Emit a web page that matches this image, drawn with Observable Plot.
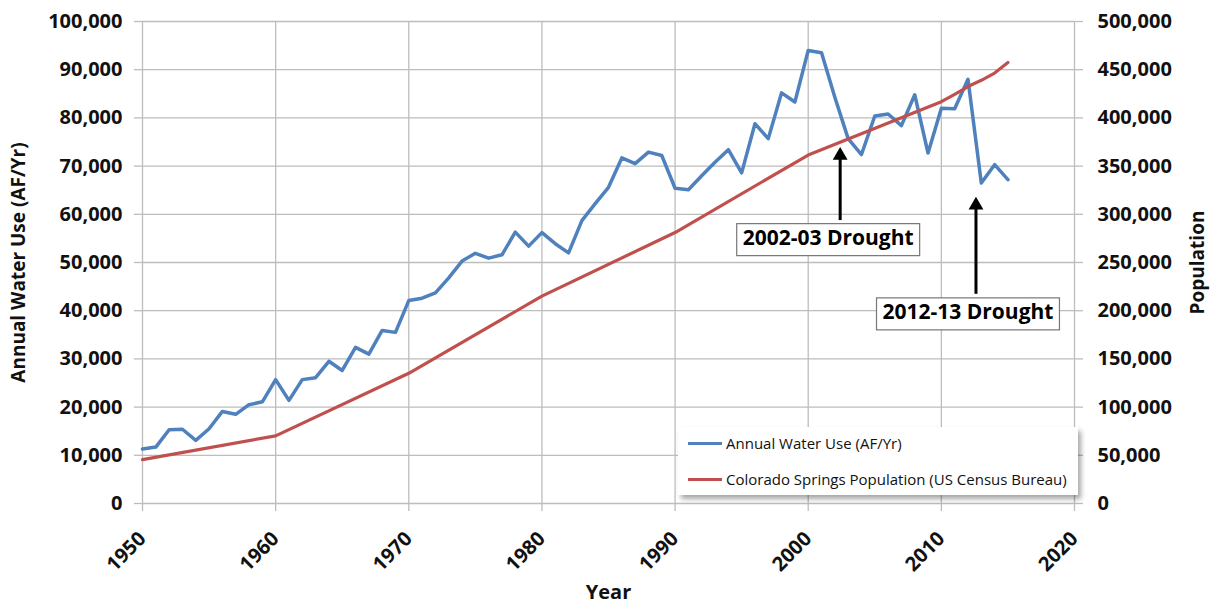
<!DOCTYPE html>
<html>
<head>
<meta charset="utf-8">
<script src="https://cdn.jsdelivr.net/npm/d3@7"></script>
<script src="https://cdn.jsdelivr.net/npm/@observablehq/plot@0.6"></script>
<style>
  body { margin: 0; background: #fff; }
  #wrap { position: relative; width: 1213px; height: 606px; overflow: hidden; }
  #legend { position: absolute; left: 678px; top: 427px; width: 400px; height: 68px; background: #fff;
    box-shadow: 3px 4px 5px rgba(0,0,0,0.35); font-family: "Open Sans", sans-serif; font-size: 15px; color: #111; }
  .item { position: absolute; left: 10px; height: 20px; display: flex; align-items: center; white-space: nowrap; }
  .swatch { width: 34px; height: 3px; margin-right: 4px; }
</style>
</head>
<body>
<div id="wrap"></div>
<script>
// ---- data ----
const years = [1950,1951,1952,1953,1954,1955,1956,1957,1958,1959,
  1960,1961,1962,1963,1964,1965,1966,1967,1968,1969,
  1970,1971,1972,1973,1974,1975,1976,1977,1978,1979,
  1980,1981,1982,1983,1984,1985,1986,1987,1988,1989,
  1990,1991,1992,1993,1994,1995,1996,1997,1998,1999,
  2000,2001,2002,2003,2004,2005,2006,2007,2008,2009,
  2010,2011,2012,2013,2014,2015];
const waterUse = [11300,11700,15300,15400,13100,15500,19100,18500,20500,21100,
  25700,21400,25700,26100,29500,27600,32400,31000,35900,35500,
  42100,42600,43700,46800,50300,51900,50900,51600,56300,53400,
  56200,53900,52000,58700,62200,65600,71700,70500,72900,72200,
  65400,65100,68000,70800,73400,68600,78800,75700,85200,83300,
  94000,93500,84300,75700,72400,80400,80800,78400,84800,72700,
  82000,81900,88000,66500,70300,67200];
const popYears = [1950,1960,1970,1980,1990,2000,2010,2011,2012,2013,2014,2015];
const population = [45500,70200,135100,215150,281100,361500,416800,424500,432500,439000,446500,457500];

const seriesNames = ["Annual Water Use (AF/Yr)", "Colorado Springs Population (US Census Bureau)"];
const seriesColors = ["#4F81BD", "#C0504D"];

const xTicks = [1950,1960,1970,1980,1990,2000,2010,2020];
const yTicksLeft = [0,10000,20000,30000,40000,50000,60000,70000,80000,90000,100000];
const popPerWater = 5; // right axis 0–500,000 maps onto left axis 0–100,000

const yTitleLeft = "Annual Water Use (AF/Yr)";
const yTitleRight = "Population";
const xTitle = "Year";

const annLabels = ["2002-03 Drought", "2012-13 Drought"];
const annLabelX = [2001.5, 2012.0];
const annLabelY = [55100, 39700];
const annArrowX = [2002.4, 2012.6];
const annArrowFrom = [58700, 43400];
const annArrowTo = [72600, 62300];

// ---- build tables ----
const water = years.map((y, i) => ({year: y, value: waterUse[i]}));
const pop = popYears.map((y, i) => ({year: y, value: population[i] / popPerWater}));
const ann = annLabels.map((t, i) => ({text: t, lx: annLabelX[i], ly: annLabelY[i], ax: annArrowX[i], a1: annArrowFrom[i], a2: annArrowTo[i]}));

const fmt = d3.format(",");
const grid = "#bdbdbd";

const chart = Plot.plot({
  width: 1213, height: 606,
  marginLeft: 142, marginRight: 139, marginTop: 21, marginBottom: 103,
  style: {fontFamily: "'Open Sans', sans-serif", fontSize: "20px", fontWeight: "bold", color: "#111", background: "transparent", overflow: "visible"},
  x: {domain: [1950, 2020]},
  y: {domain: [0, 100000]},
  marks: [
    Plot.gridX({ticks: xTicks, stroke: grid, strokeOpacity: 1, strokeWidth: 1.3}),
    Plot.gridY({ticks: yTicksLeft, stroke: grid, strokeOpacity: 1, strokeWidth: 1.3}),
    Plot.axisX({ticks: xTicks, tickSize: 8, stroke: grid, strokeWidth: 1.3, fill: "#111", tickRotate: -45, tickPadding: 24, tickFormat: d => String(d), label: null}),
    Plot.axisY({ticks: yTicksLeft, anchor: "left", tickSize: 8, stroke: grid, strokeWidth: 1.3, fill: "#111", tickPadding: 12, tickFormat: fmt, label: null}),
    Plot.axisY({ticks: yTicksLeft, anchor: "right", tickSize: 8, stroke: grid, strokeWidth: 1.3, fill: "#111", tickPadding: 15, tickFormat: d => fmt(d * popPerWater), label: null}),
    Plot.line(water, {x: "year", y: "value", stroke: seriesColors[0], strokeWidth: 3.5}),
    Plot.line(pop, {x: "year", y: "value", stroke: seriesColors[1], strokeWidth: 3.2}),
    Plot.ruleX(ann, {x: "ax", y1: "a1", y2: "a2", stroke: "#000", strokeWidth: 3}),
    Plot.dot(ann, {x: "ax", y: "a2", symbol: "triangle", r: 5.5, fill: "#000", stroke: null, dy: 2}),
    Plot.text(ann, {x: "lx", y: "ly", text: "text", fontSize: 21, fontWeight: "bold", fill: "#000"}),
    Plot.text([yTitleLeft], {text: d => d, frameAnchor: "left", textAnchor: "middle", rotate: -90, dx: -124, fontSize: 19, fontWeight: "bold"}),
    Plot.text([yTitleRight], {text: d => d, frameAnchor: "right", textAnchor: "middle", rotate: -90, dx: 123, fontSize: 19, fontWeight: "bold"}),
    Plot.text([xTitle], {text: d => d, frameAnchor: "bottom", dy: 95, fontSize: 20, fontWeight: "bold"})
  ]
});

const wrap = document.getElementById("wrap");
wrap.appendChild(chart);

// white boxes behind annotation labels
Array.from(chart.querySelectorAll("text"))
  .filter(t => annLabels.includes(t.textContent))
  .forEach(t => {
    const b = t.getBBox();
    const r = document.createElementNS("http://www.w3.org/2000/svg", "rect");
    r.setAttribute("x", b.x - 6);
    r.setAttribute("y", b.y + 1);
    r.setAttribute("width", b.width + 12);
    r.setAttribute("height", b.height + 4);
    r.setAttribute("fill", "#fff");
    r.setAttribute("stroke", "#777");
    r.setAttribute("stroke-width", "1.2");
    if (t.getAttribute("transform")) r.setAttribute("transform", t.getAttribute("transform"));
    t.parentNode.insertBefore(r, t);
  });

// legend inside the plot area
const legend = document.createElement("div");
legend.id = "legend";
seriesNames.forEach((name, i) => {
  const item = document.createElement("div");
  item.className = "item";
  item.style.top = (6 + i * 36) + "px";
  const sw = document.createElement("div");
  sw.className = "swatch";
  sw.style.background = seriesColors[i];
  const tx = document.createElement("span");
  tx.textContent = name;
  item.appendChild(sw);
  item.appendChild(tx);
  legend.appendChild(item);
});
wrap.appendChild(legend);
</script>
</body>
</html>
